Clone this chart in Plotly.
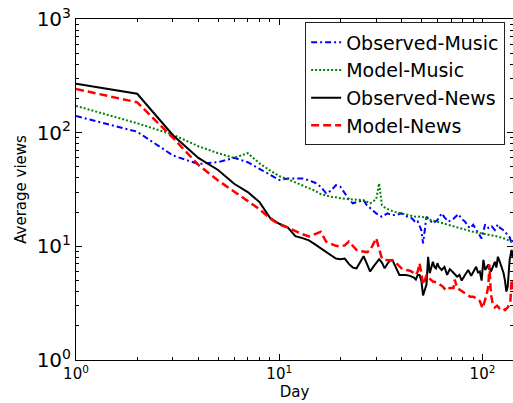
import plotly.graph_objects as go

# ---- data ----
obs_music_days = [1,2,3,4,5,6,7,8,9,10,11,12,13,14,15,16,17,18,19,20,21,22,23,24,25,26,27,28,29,30,32,34,36,38,40,42,45,47,48,49,50,51,52,53,55,57,60,63,65,68,72,76,79,82,85,87,90,93,96,99,101,103,107,111,115,119,122,126,129,133,136,139,141]
obs_music_vals = [140,102,63,53,55,60,55,48,43,38.3,39.5,39.6,39.6,38,36.3,33.4,29.3,31,34.6,33.4,29.3,26,23.9,24.5,25,25.5,23,21.6,20.5,19.5,18.2,19.5,18.8,19,19.5,18.5,17.6,16.1,16.5,15,13.9,10.6,14,18.2,17,15.9,17,19.5,18,16.5,17.5,19.2,17.5,16.5,15,14.4,15.5,14,13,11.7,13.5,15.6,14.5,15,13.9,15.6,14.5,14,13.4,12.5,12,10.6,11.5]

model_music_days = [1,2,3,4,5,6,7,8,9,10,11,12,13,14,15,16,17,18,19,20,22,24,26,28,29,30,31,32,33,35,37,40,44,47,50,56,62,68,75,82,90,99,108,119,130,139,141]
model_music_vals = [172,121,96,76,66,60,66,53.7,46.5,41.5,39,36.5,34,32,30.8,28.8,27.8,27.3,27,26.5,26,25.8,25.5,23.9,25,26,35.8,23,22,20.8,20.1,19.5,18.7,18.2,18.3,17,16.2,15.4,14.6,13.9,13.4,13,12.6,12.2,11.6,11,10.8]

obs_news_days = [1,2,3,4,5,6,7,8,9,10,11,12,13,14,15,16,17,18,19,20,21,22,23,24,25,26,27,28,29,30,31,32,33,34,35,36,37,38,39,40,42,44,46,47,48,49,50,51,52,53,54,55,56,57,58,59,60,61,63,65,67,69,71,73,75,77,79,82,85,88,90,93,95,97,99,101,103,105,107,110,113,115,117,119,122,124,127,129,131,133,136,139,141]
obs_news_vals = [270,220,95,60,47,35.5,30,24.5,17.8,15.8,14.7,12.3,11.8,11.3,10.4,9.6,8.8,8.3,7.8,7.7,7.8,7.0,6.5,6.4,7.3,8.2,7.0,6.0,6.6,7.2,7.7,7.2,6.4,7.0,7.5,7.6,6.8,6.0,5.6,5.6,5.6,5.5,5.3,5.1,5.6,5.6,5.0,3.7,4.2,4.6,8.1,5.8,6.5,7.3,6.6,6.4,7.1,6.6,6.2,6.6,5.6,6.3,6.0,5.7,5.4,5.6,5.0,5.6,6.2,5.5,6.0,6.6,5.9,6.0,5.0,7.6,6.2,6.5,6.9,6.0,6.8,7.3,6.5,8.1,7.2,6.6,5.8,5.0,4.0,4.4,7.6,9.3,8.0]

model_news_days = [1,2,3,4,5,6,7,8,9,10,11,12,13,14,15,16,17,18,19,20,21,22,23,24,25,26,27,28,29,30,31,32,33,34,36,38,40,42,44,46,47,48,49,50,51,52,53,55,57,60,62,64,66,69,72,73,75,78,82,87,90,93,97,100,102,105,107,108,110,112,115,118,121,125,129,133,137,139,141]
model_news_vals = [242,185,90,52,38,30.5,25.2,21.2,17.6,15.6,14.6,13.6,12.8,12.2,12.8,13.4,11,10.5,10.1,10,10.2,11,10,9.3,9.1,9.0,8.9,9.2,10.5,11.8,9.5,7.8,7.6,7.6,7.5,7.0,6.4,6.2,6.1,5.8,5.6,6.0,7.1,5.8,4.6,5.0,5.6,5.2,4.9,4.8,4.6,4.4,4.1,4.3,4.3,5.1,4.3,4.1,3.9,3.6,3.6,3.5,3.3,2.85,3.2,3.8,4.6,6.9,3.8,3.2,2.9,3.0,2.85,2.9,2.75,2.9,3.2,5.1,4.0]

x_major = [1, 10, 100]
x_major_text = ["10<sup>0</sup>", "10<sup>1</sup>", "10<sup>2</sup>"]
y_major = [1, 10, 100, 1000]
y_major_text = ["10<sup>0</sup>", "10<sup>1</sup>", "10<sup>2</sup>", "10<sup>3</sup>"]

x_minor = [m * 10**e for e in range(0, 3) for m in range(2, 10)]
y_minor = [m * 10**e for e in range(0, 3) for m in range(2, 10)]

FONT = "DejaVu Sans"

fig = go.Figure()
fig.add_trace(go.Scatter(x=obs_music_days, y=obs_music_vals, mode="lines", name="Observed-Music",
                         line=dict(color="#0000ff", width=2, dash="6px,3px,2px,3px")))
fig.add_trace(go.Scatter(x=model_music_days, y=model_music_vals, mode="lines", name="Model-Music",
                         line=dict(color="#008000", width=2, dash="2px,2px")))
fig.add_trace(go.Scatter(x=obs_news_days, y=obs_news_vals, mode="lines", name="Observed-News",
                         line=dict(color="#000000", width=2)))
fig.add_trace(go.Scatter(x=model_news_days, y=model_news_vals, mode="lines", name="Model-News",
                         line=dict(color="#ff0000", width=2.5, dash="8px,4px")))

fig.update_layout(
    width=513, height=403,
    margin=dict(l=75.5, r=0, t=19, b=43),
    paper_bgcolor="white", plot_bgcolor="white",
    font=dict(family=FONT, color="black"),
    showlegend=True,
    legend=dict(x=0.982, y=0.99, xanchor="right", yanchor="top",
                font=dict(size=19, family=FONT), bgcolor="white",
                bordercolor="#222222", borderwidth=1, tracegroupgap=0,
                itemwidth=30),
    xaxis=dict(type="log", range=[0, 2.15], showgrid=False, zeroline=False,
               showline=True, linecolor="black", linewidth=1, mirror="ticks",
               ticks="inside", ticklen=6, tickcolor="black",
               tickvals=x_major, ticktext=x_major_text, ticklabeloverflow="allow",
               tickfont=dict(size=15, family=FONT),
               minor=dict(tickvals=x_minor, ticks="inside", ticklen=3, tickcolor="black", showgrid=False),
               title=dict(text="Day", font=dict(size=15, family=FONT), standoff=4)),
    yaxis=dict(type="log", range=[0, 3], showgrid=False, zeroline=False,
               showline=True, linecolor="black", linewidth=1, mirror="ticks",
               ticks="inside", ticklen=6, tickcolor="black",
               tickvals=y_major, ticktext=y_major_text, ticklabeloverflow="allow",
               tickfont=dict(size=20, family=FONT),
               minor=dict(tickvals=y_minor, ticks="inside", ticklen=3, tickcolor="black", showgrid=False),
               title=dict(text="Average views", font=dict(size=15, family=FONT), standoff=6)),
)

fig.write_html("out.html", config={"displayModeBar": False},
               post_script="document.body.style.margin='0';")
